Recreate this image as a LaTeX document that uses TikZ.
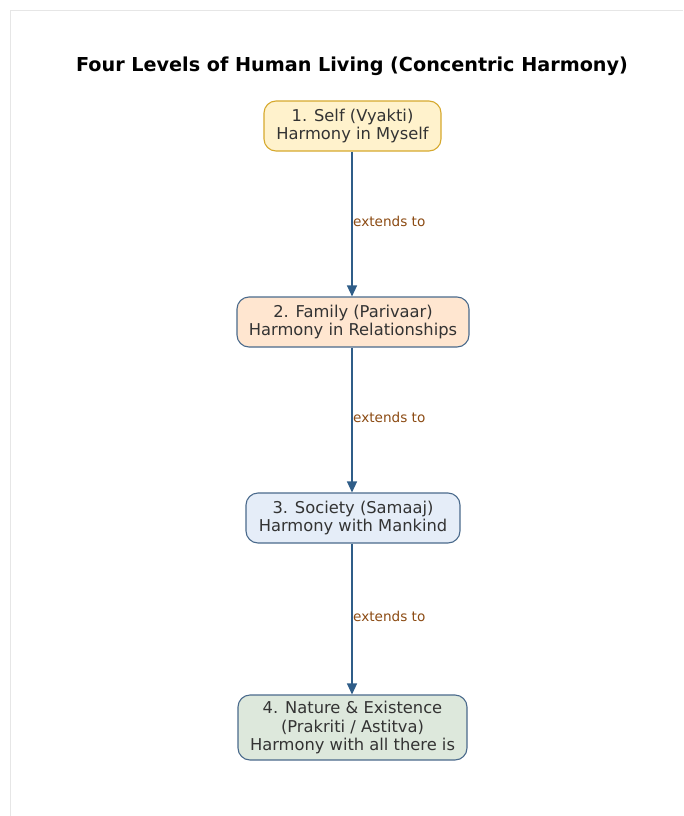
\documentclass[tikz,border=0pt]{standalone}
\usepackage{fontspec}
\setmainfont{DejaVu Sans}
\usetikzlibrary{arrows.meta}
\definecolor{framegray}{HTML}{E6E6E6}
\definecolor{textdark}{HTML}{333333}
\definecolor{linkblue}{HTML}{2F5D88}
\definecolor{edgeslate}{HTML}{4A6A8C}
\definecolor{labelbrown}{HTML}{8B4A12}
\definecolor{selffill}{HTML}{FFF2CC}
\definecolor{selfedge}{HTML}{D6A92E}
\definecolor{familyfill}{HTML}{FFE6D0}
\definecolor{societyfill}{HTML}{E5EDF8}
\definecolor{naturefill}{HTML}{DDE8DC}
\tikzset{
  level/.style={draw=edgeslate, line width=1.1pt, rounded corners=12pt,
    align=center, text=textdark, font=\fontsize{16.3}{18.5}\selectfont,
    inner sep=0pt, minimum height=50pt},
  link/.style={draw=linkblue, line width=1.3pt,
    -{Triangle[length=11pt,width=10pt]}},
  linklabel/.style={pos=0.48, anchor=west, inner sep=0pt, xshift=0.5pt,
    text=labelbrown, font=\fontsize{13.6}{15}\selectfont}
}
\begin{document}
\begin{tikzpicture}[x=1pt,y=1pt]
\useasboundingbox (0,0) rectangle (683,-816);
% page frame
\draw[framegray, line width=1.5pt] (10.5,-816) -- (10.5,-10.5) -- (683,-10.5);
% title
\node[font=\bfseries\fontsize{19.2}{22}\selectfont, text=black] (title) at (352,-66) {Four Levels of Human Living (Concentric Harmony)};
% the four levels
\node[level, fill=selffill, draw=selfedge, minimum width=177pt] (self) at (352.5,-126) {1. Self (Vyakti)\\Harmony in Myself};
\node[level, fill=familyfill, minimum width=232pt] (family) at (353,-322) {2. Family (Parivaar)\\Harmony in Relationships};
\node[level, fill=societyfill, minimum width=214pt] (society) at (353,-518) {3. Society (Samaaj)\\Harmony with Mankind};
\node[level, fill=naturefill, minimum width=229pt, minimum height=65pt] (nature) at (352.5,-727.5) {4. Nature \& Existence\\(Prakriti / Astitva)\\Harmony with all there is};
% connectors
\draw[link] (self.south -| 352,0) -- (family.north -| 352,0) node[linklabel] (l1) {extends to};
\draw[link] (family.south -| 352,0) -- (society.north -| 352,0) node[linklabel] (l2) {extends to};
\draw[link] (society.south -| 352,0) -- (nature.north -| 352,0) node[linklabel] (l3) {extends to};
\end{tikzpicture}
\end{document}
